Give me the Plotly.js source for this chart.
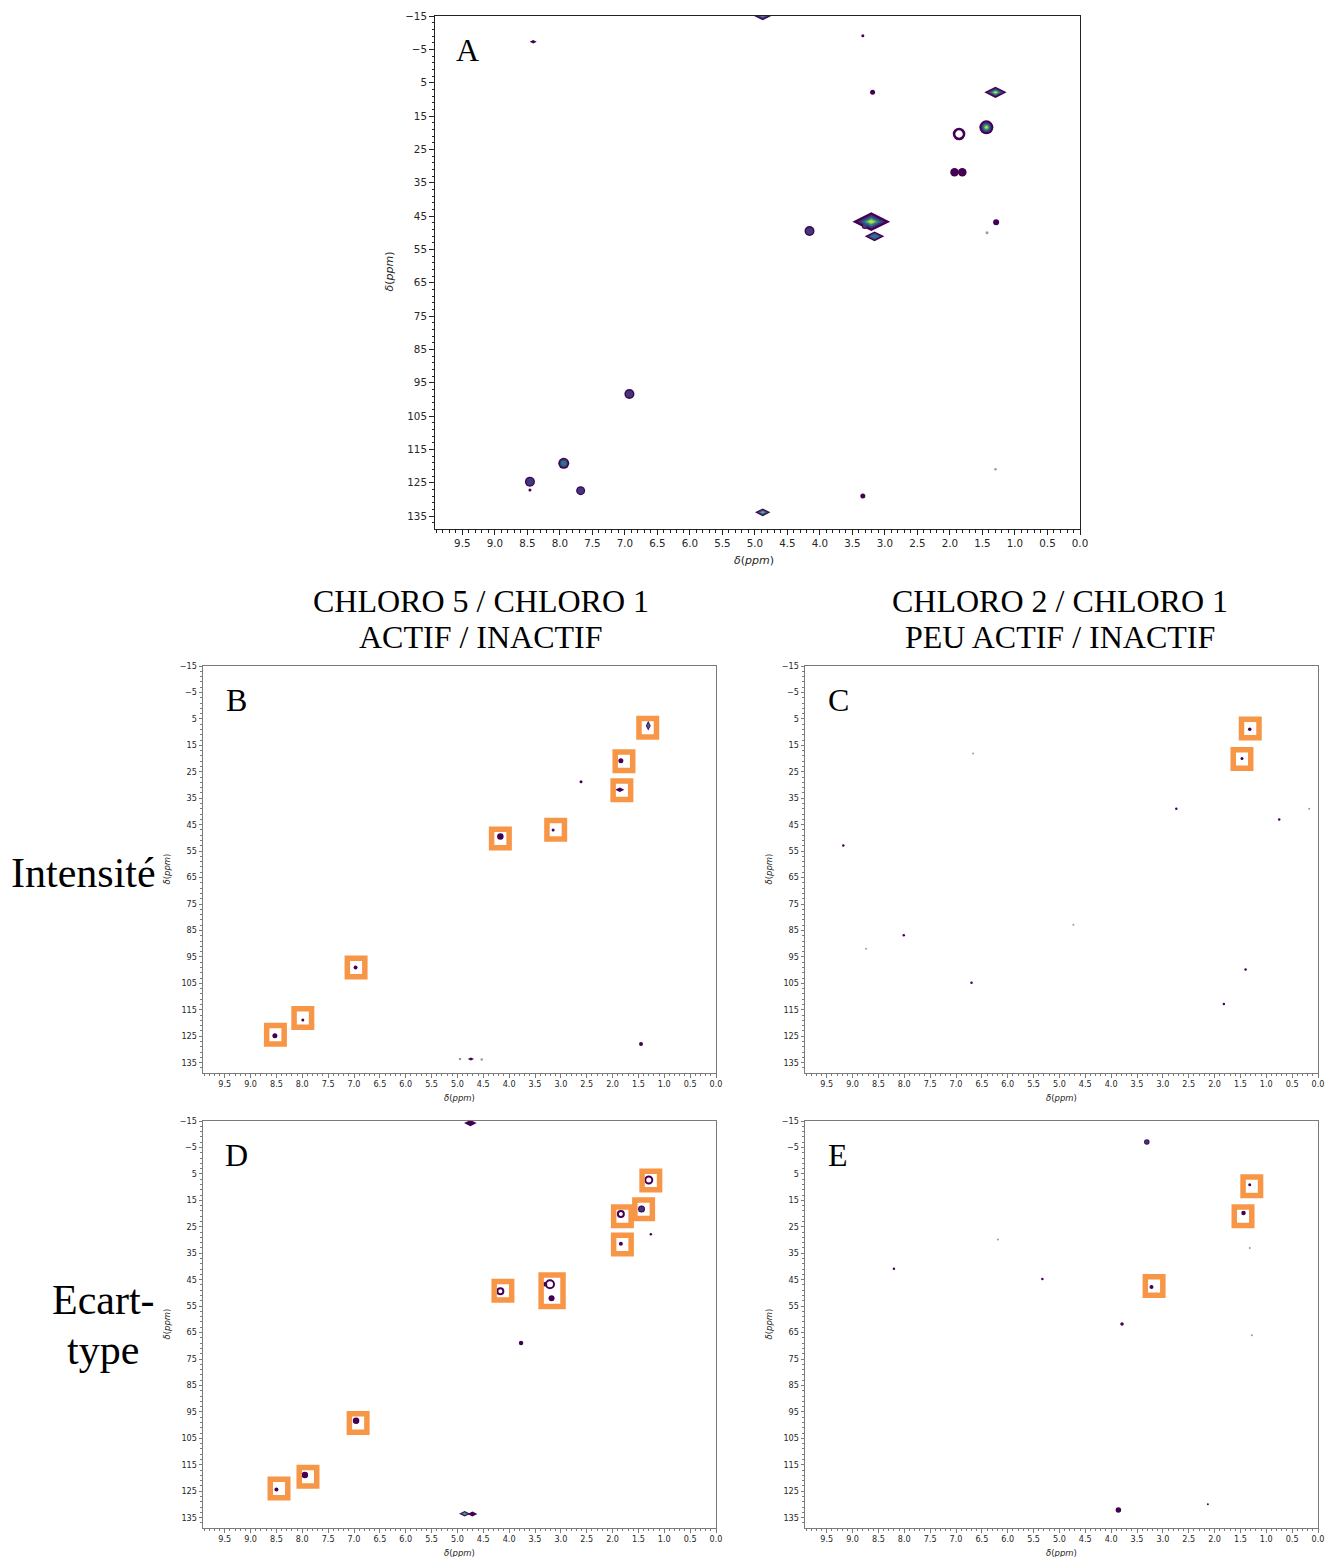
<!DOCTYPE html>
<html><head><meta charset="utf-8">
<script src="https://cdn.plot.ly/plotly-3.0.1.min.js"></script>
<style>html,body{margin:0;padding:0;background:#fff}#plot{width:1325px;height:1557px}</style>
</head><body><div id="plot"></div>
<script>
// ================= DATA =================
const xTicks = [9.5, 9.0, 8.5, 8.0, 7.5, 7.0, 6.5, 6.0, 5.5, 5.0, 4.5, 4.0, 3.5, 3.0, 2.5, 2.0, 1.5, 1.0, 0.5, 0.0];
const xTickText = ["9.5","9.0","8.5","8.0","7.5","7.0","6.5","6.0","5.5","5.0","4.5","4.0","3.5","3.0","2.5","2.0","1.5","1.0","0.5","0.0"];
const yTicks = [-15, -5, 5, 15, 25, 35, 45, 55, 65, 75, 85, 95, 105, 115, 125, 135];
const yTickText = ["\u221215","\u22125","5","15","25","35","45","55","65","75","85","95","105","115","125","135"];

const colTitles1 = ["CHLORO 5 / CHLORO 1", "CHLORO 2 / CHLORO 1"];
const colTitles2 = ["ACTIF / INACTIF", "PEU ACTIF / INACTIF"];
const rowTitles = ["Intensité", "Ecart-", "type"];
const panelLetters = ["A", "B", "C", "D", "E"];
const axisTitle = "<i>δ</i>(<i>ppm</i>)";

// Panel A peaks (1H ppm, 13C ppm, contour level 0..5)
const A_H = [4.88, 8.41, 3.34, 3.19, 1.30, 1.44, 1.86, 1.93, 1.81, 3.21, 3.16, 3.31, 4.16, 1.29, 1.43, 6.93, 7.94, 8.46, 8.46, 7.68, 4.88, 3.34, 1.30];
const A_C = [-15.3, -7.3, -9.1, 7.9, 7.9, 18.4, 20.4, 31.9, 31.9, 46.7, 51.1, 48.0, 49.5, 46.9, 50.0, 98.4, 119.2, 124.7, 127.2, 127.4, 133.9, 129.0, 121.0];
const A_level = [5, 1, 1, 1, 5, 5, 2, 1, 1, 5, 3, 2, 2, 1, 0, 2, 3, 2, 1, 2, 4, 1, 0];

// Panel B peaks
const B_H = [1.31, 1.84, 1.86, 2.61, 3.15, 4.17, 6.97, 7.99, 8.53, 1.45, 4.95, 4.74, 4.53];
const B_C = [7.55, 20.8, 31.8, 28.8, 47.0, 49.5, 99.0, 118.9, 124.8, 127.9, 133.6, 133.6, 133.8];
const B_level = [3, 1, 1, 1, 1, 1, 1, 1, 1, 1, 0, 1, 0];
const B_boxH = [1.32, 1.78, 1.82, 3.10, 4.17, 6.96, 7.99, 8.52];
const B_boxC = [8.35, 21.0, 32.0, 46.9, 50.2, 99.0, 118.1, 124.4];

// Panel C peaks
const C_H = [1.32, 1.47, 6.67, 2.74, 0.17, 0.75, 9.18, 8.01, 8.74, 4.73, 6.70, 1.40, 1.82];
const C_C = [8.9, 20.0, 18.1, 39.0, 39.0, 43.0, 52.9, 86.8, 91.9, 82.8, 104.8, 99.8, 112.8];
const C_level = [1, 1, 0, 1, 0, 1, 1, 1, 0, 0, 1, 1, 1];
const C_boxH = [1.31, 1.47];
const C_boxC = [8.6, 20.2];

// Panel D peaks
const D_H = [4.75, 1.30, 1.44, 1.84, 1.84, 1.26, 3.21, 3.31, 3.18, 4.17, 3.77, 6.96, 7.95, 8.50, 4.86, 4.71];
const D_C = [-14.2, 7.3, 18.3, 20.2, 31.4, 27.8, 46.7, 46.7, 52.0, 49.4, 68.9, 98.3, 118.9, 124.3, 133.5, 133.6];
const D_level = [1, 1, 2, 1, 1, 1, 1, 1, 1, 1, 1, 1, 1, 1, 4, 1];
const D_boxH = [1.26, 1.40, 1.81, 1.81, 3.17, 4.12, 6.92, 7.89, 8.45];
const D_boxC = [7.5, 18.4, 21.0, 31.7, 49.2, 49.2, 99.2, 119.5, 124.0];

// Panel E peaks
const E_H = [3.31, 1.32, 1.44, 1.32, 3.22, 6.19, 8.20, 5.33, 3.79, 1.28, 3.86, 2.13];
const E_C = [-7.1, 9.1, 19.8, 33.0, 47.8, 29.8, 40.9, 44.7, 61.8, 66.0, 132.1, 129.9];
const E_level = [2, 1, 1, 0, 1, 0, 1, 1, 1, 0, 1, 1];
const E_boxH = [1.28, 1.45, 3.17];
const E_boxC = [9.7, 21.0, 47.4];

// ================= STYLE =================
const A_size = [15, 5, 3, 5, 16, 14, 10, 8.5, 8.5, 27, 14, 6, 10, 6, 3, 10, 11, 10, 3, 9, 11, 5, 2.5];
const A_sym = ['diamond-wide','diamond-wide','circle','circle','diamond-wide','circle','ring','circle','circle','diamond-wide','diamond-wide','circle','circle','circle','circle','circle','circle','circle','circle','circle','diamond-wide','circle','circle'];
const B_size = [7, 5, 6.5, 3, 3, 6.5, 4, 3, 5, 4, 2.5, 4.5, 2.5];
const B_sym = ['diamond-tall','circle','diamond-wide','circle','circle','circle','circle','circle','circle','circle','circle','diamond-wide','circle'];
const C_size = [3.5, 3, 2, 2.5, 2, 2.5, 2.5, 2.5, 2, 2, 2.5, 2.5, 2.5];
const C_sym = C_size.map(() => 'circle');
const D_size = [9, 7, 7, 6, 4, 2.5, 8, 4.5, 6, 6, 4.5, 6.5, 6.5, 4, 8, 7];
const D_sym = ['diamond-wide','ring','circle','ring','circle','circle','ring','circle','circle','ring','circle','circle','circle','circle','diamond-wide','diamond-wide'];
const E_size = [5.5, 3, 4.5, 2, 4, 2, 2.5, 2.5, 3.5, 2, 5.5, 2];
const E_sym = E_size.map(() => 'circle');
const D_boxScaleX = [1, 1, 1, 1, 1.25, 1, 1, 1, 1];
const D_boxScaleY = [1, 1, 1, 1, 1.7, 1, 1, 1, 1];

const VIR = ['#440154', '#3b528b', '#21918c', '#5ec962', '#fde725'];
const LEVEL_F = [1, 0.72, 0.5, 0.33, 0.2];
const ORANGE = '#f79646';
const W = 1325, H = 1557;
const XR = [9.92, 0], YR = [138.9, -15];
const PANELS = [
  {l:435, r:1080, t:16,   b:529,  big:true},
  {l:203, r:716,  t:666,  b:1073},
  {l:805, r:1318, t:666,  b:1073},
  {l:203, r:716,  t:1121, b:1528},
  {l:805, r:1318, t:1121, b:1528}
];
const SERIF = 'Liberation Serif, Times New Roman, serif';
const SANS = 'DejaVu Sans, sans-serif';

function peakTraces(X, Y, lvl, size, sym, n, ringW) {
  const xa = 'x' + (n === 1 ? '' : n), ya = 'y' + (n === 1 ? '' : n);
  const ring = sym.map(s => s === 'ring');
  const out = [{
    type: 'scatter', mode: 'markers', x: X, y: Y, xaxis: xa, yaxis: ya,
    hoverinfo: 'skip', showlegend: false, cliponaxis: true,
    marker: {color: VIR[0], size: size, symbol: sym.map(s => s === 'ring' ? 'circle-open' : s),
      opacity: lvl.map(l => l === 0 ? 0.45 : 1),
      line: {color: VIR[0], width: ring.map(r => r ? ringW : 0)}}
  }];
  for (let k = 2; k <= 5; k++) {
    const idx = X.map((_, i) => i).filter(i => lvl[i] >= k && !ring[i]);
    if (!idx.length) continue;
    out.push({
      type: 'scatter', mode: 'markers', x: idx.map(i => X[i]), y: idx.map(i => Y[i]),
      xaxis: xa, yaxis: ya, hoverinfo: 'skip', showlegend: false, cliponaxis: true,
      marker: {color: VIR[k - 1], size: idx.map(i => size[i] * LEVEL_F[k - 1]),
        symbol: idx.map(i => sym[i]), line: {width: 0}}
    });
  }
  return out;
}

function boxShapes(X, Y, n, sx, sy) {
  const p = PANELS[n - 1];
  const pxX = (p.r - p.l) / (XR[0] - XR[1]);
  const pxY = (p.b - p.t) / (YR[0] - YR[1]);
  const lw = 5.5, outerW = 23, outerH = 24;
  const hw = (outerW - lw) / 2 / pxX, hh = (outerH - lw) / 2 / pxY;
  const xr = 'x' + n, yr = 'y' + n;
  return X.map((x, i) => {
    const fx = sx ? sx[i] : 1, fy = sy ? sy[i] : 1;
    return {type: 'rect', xref: xr, yref: yr, x0: x - hw * fx, x1: x + hw * fx,
      y0: Y[i] - hh * fy, y1: Y[i] + hh * fy, layer: 'above',
      line: {color: ORANGE, width: lw}, fillcolor: 'rgba(0,0,0,0)'};
  });
}

const data = [].concat(
  peakTraces(A_H, A_C, A_level, A_size, A_sym, 1, 2.6),
  peakTraces(B_H, B_C, B_level, B_size, B_sym, 2, 2),
  peakTraces(C_H, C_C, C_level, C_size, C_sym, 3, 2),
  peakTraces(D_H, D_C, D_level, D_size, D_sym, 4, 2),
  peakTraces(E_H, E_C, E_level, E_size, E_sym, 5, 2)
);

const layout = {
  width: W, height: H, margin: {l: 0, r: 0, t: 0, b: 0},
  paper_bgcolor: '#fff', plot_bgcolor: '#fff', showlegend: false,
  shapes: [].concat(
    boxShapes(B_boxH, B_boxC, 2),
    boxShapes(C_boxH, C_boxC, 3),
    boxShapes(D_boxH, D_boxC, 4, D_boxScaleX, D_boxScaleY),
    boxShapes(E_boxH, E_boxC, 5)
  ),
  annotations: []
};

PANELS.forEach((p, i) => {
  const n = i + 1, sfx = n === 1 ? '' : n;
  const big = !!p.big;
  const lc = big ? '#222' : '#7a7a7a';
  const tf = {family: SANS, size: big ? 10.3 : 8.1, color: '#262626'};
  layout['xaxis' + sfx] = {
    domain: [p.l / W, p.r / W], anchor: 'y' + sfx, range: XR,
    tickmode: 'array', tickvals: xTicks, ticktext: xTickText,
    ticks: 'outside', ticklen: big ? 5 : 3.5, tickwidth: 1, tickcolor: lc,
    showline: true, mirror: true, linecolor: lc, linewidth: 1,
    showgrid: false, zeroline: false, tickfont: tf, fixedrange: true,
    minor: {tickmode: 'linear', tick0: 0, dtick: 0.1, ticks: 'outside', ticklen: big ? 2.5 : 2, tickcolor: lc, showgrid: false}
  };
  layout['yaxis' + sfx] = {
    domain: [1 - p.b / H, 1 - p.t / H], anchor: 'x' + sfx, range: YR,
    tickmode: 'array', tickvals: yTicks, ticktext: yTickText,
    ticks: 'outside', ticklen: big ? 5 : 3.5, tickwidth: 1, tickcolor: lc,
    showline: true, mirror: true, linecolor: lc, linewidth: 1,
    showgrid: false, zeroline: false, tickfont: tf, fixedrange: true,
    minor: {tickmode: 'linear', tick0: -15, dtick: 2, ticks: 'outside', ticklen: big ? 2.5 : 2, tickcolor: lc, showgrid: false}
  };
  const atf = {family: SANS, size: big ? 11 : 8.5, color: '#262626'};
  layout.annotations.push({xref: 'paper', yref: 'paper', x: (p.l + p.r) / 2 / W + (big ? -0.003 : 0),
    y: 1 - (p.b + (big ? 31 : 25)) / H, text: axisTitle, showarrow: false, font: atf, xanchor: 'center', yanchor: 'middle'});
  layout.annotations.push({xref: 'paper', yref: 'paper', x: (p.l - (big ? 46 : 37)) / W,
    y: 1 - ((p.t + p.b) / 2 + (big ? -1 : 0)) / H, text: axisTitle, textangle: -90, showarrow: false, font: atf, xanchor: 'center', yanchor: 'middle'});
  layout.annotations.push({xref: 'paper', yref: 'paper', x: (p.l + (big ? 32 : 33)) / W,
    y: 1 - (p.t + 34) / H, text: panelLetters[i], showarrow: false,
    font: {family: SERIF, size: 32, color: '#000'}, xanchor: 'center', yanchor: 'middle'});
});

const colX = [481, 1060];
colX.forEach((cx, j) => {
  layout.annotations.push({xref: 'paper', yref: 'paper', x: cx / W, y: 1 - 601 / H, text: colTitles1[j],
    showarrow: false, font: {family: SERIF, size: 32, color: '#000'}, xanchor: 'center', yanchor: 'middle'});
  layout.annotations.push({xref: 'paper', yref: 'paper', x: cx / W, y: 1 - 637 / H, text: colTitles2[j],
    showarrow: false, font: {family: SERIF, size: 32, color: '#000'}, xanchor: 'center', yanchor: 'middle'});
});
const rowPos = [[84, 873], [103, 1300], [103, 1350]];
rowTitles.forEach((t, j) => {
  layout.annotations.push({xref: 'paper', yref: 'paper', x: rowPos[j][0] / W, y: 1 - rowPos[j][1] / H, text: t,
    showarrow: false, font: {family: SERIF, size: 42, color: '#000'}, xanchor: 'center', yanchor: 'middle'});
});

Plotly.newPlot('plot', data, layout, {staticPlot: true, displayModeBar: false});
</script></body></html>
